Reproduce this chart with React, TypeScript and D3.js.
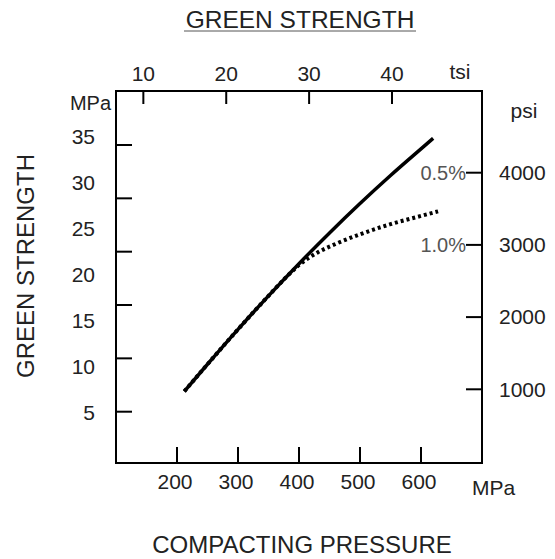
import React from 'react'
import * as d3 from 'd3'

// compacting pressure (MPa) vs green strength (MPa)
const pressure05 = [212, 250, 300, 350, 400, 450, 500, 550, 600, 620]
const strength05 = [7.3, 10.25, 14.05, 17.7, 21.2, 24.55, 27.75, 30.8, 33.7, 34.85]
const pressure10 = [212, 250, 300, 350, 380, 400, 430, 460, 500, 550, 600, 628]
const strength10 = [7.3, 10.25, 14.05, 17.7, 19.8, 21.05, 22.4, 23.35, 24.4, 25.5, 26.4, 26.9]

const seriesLabels = ['0.5%', '1.0%']
const mpaTicksX = [200, 300, 400, 500, 600]
const tsiTicks = [10, 20, 30, 40]
const mpaLabelsY = [5, 10, 15, 20, 25, 30, 35]
const leftTickMarks = [10, 15, 20, 25, 30, 35]
const psiTicks = [1000, 2000, 3000, 4000]

const W = 555
const H = 559
const box = { left: 116, right: 482, top: 91, bottom: 463 }
const font = '"Liberation Sans", Arial, sans-serif'
const ink = '#222'

export default function App () {
  const x = d3.scaleLinear().domain([100, 700]).range([box.left, box.right])
  const xTsi = d3.scaleLinear().domain([6.7, 50.86]).range([box.left, box.right])
  const y = d3.scaleLinear().domain([-0.5, 40]).range([box.bottom, box.top])
  // the left tick marks in the scan do not sit on the number labels
  const yTick = d3.scaleLinear().domain([10, 35]).range([411.7, 145])
  const yPsi = d3.scaleLinear().domain([1000, 4000]).range([389.3, 172.7])

  const line = d3.line<[number, number]>()
    .x(d => x(d[0]))
    .y(d => y(d[1]))
    .curve(d3.curveMonotoneX)

  const solid = pressure05.map((p, i) => [p, strength05[i]] as [number, number])
  const dotted = pressure10.map((p, i) => [p, strength10[i]] as [number, number])

  return (
    <svg width={W} height={H} style={{ position: 'absolute', left: 0, top: 0, background: '#fff' }}
      fontFamily={font}>
      <rect width={W} height={H} fill='#fff' />

      {/* title */}
      <text x={300} y={28} textAnchor='middle' fontSize={24.5} fill={ink}>GREEN STRENGTH</text>
      <line x1={184} x2={416} y1={31} y2={31} stroke='#555' strokeWidth={1} />

      {/* frame */}
      <rect x={box.left} y={box.top} width={box.right - box.left} height={box.bottom - box.top}
        fill='none' stroke='#000' strokeWidth={2} />

      {/* bottom axis */}
      {mpaTicksX.map(t => (
        <g key={'b' + t}>
          <line x1={x(t)} x2={x(t)} y1={box.bottom} y2={box.bottom - 16} stroke='#000' strokeWidth={2} />
          <text x={x(t) - 2} y={489} textAnchor='middle' fontSize={21} fill={ink}>{t}</text>
        </g>
      ))}
      <text x={472} y={495} fontSize={21} fill={ink}>MPa</text>

      {/* top axis */}
      {tsiTicks.map(t => (
        <g key={'t' + t}>
          <line x1={xTsi(t)} x2={xTsi(t)} y1={box.top} y2={box.top + 13} stroke='#000' strokeWidth={2} />
          <text x={xTsi(t)} y={81} textAnchor='middle' fontSize={21} fill={ink}>{t}</text>
        </g>
      ))}
      <text x={460} y={79} textAnchor='middle' fontSize={21} fill={ink}>tsi</text>

      {/* left axis */}
      {leftTickMarks.map(t => (
        <line key={'lt' + t} x1={box.left} x2={box.left + 16} y1={yTick(t)} y2={yTick(t)}
          stroke='#000' strokeWidth={2} />
      ))}
      {mpaLabelsY.map(t => (
        <text key={'l' + t} x={95} y={y(t)} dy='0.35em' textAnchor='end' fontSize={21} fill={ink}>{t}</text>
      ))}
      <text x={111} y={110} textAnchor='end' fontSize={20} fill={ink}>MPa</text>
      <text transform='translate(34,266) rotate(-90)' textAnchor='middle' fontSize={24} fill={ink}>
        GREEN STRENGTH
      </text>

      {/* right axis */}
      {psiTicks.map(t => (
        <g key={'r' + t}>
          <line x1={box.right} x2={box.right - 16} y1={yPsi(t)} y2={yPsi(t)} stroke='#000' strokeWidth={2} />
          <text x={499} y={yPsi(t)} dy='0.35em' fontSize={21} fill={ink}>{t}</text>
        </g>
      ))}
      <text x={524} y={118} textAnchor='middle' fontSize={21} fill={ink}>psi</text>

      {/* curves */}
      <path d={line(dotted) || ''} fill='none' stroke='#000' strokeWidth={4} strokeDasharray='3,3' />
      <path d={line(solid) || ''} fill='none' stroke='#000' strokeWidth={3.5} />
      <text x={466} y={yPsi(4000)} dy='0.35em' textAnchor='end' fontSize={20} fill='#555'>{seriesLabels[0]}</text>
      <text x={466} y={yPsi(3000)} dy='0.35em' textAnchor='end' fontSize={20} fill='#555'>{seriesLabels[1]}</text>

      {/* x title */}
      <text x={302} y={553} textAnchor='middle' fontSize={24} fill={ink}>COMPACTING PRESSURE</text>
    </svg>
  )
}
